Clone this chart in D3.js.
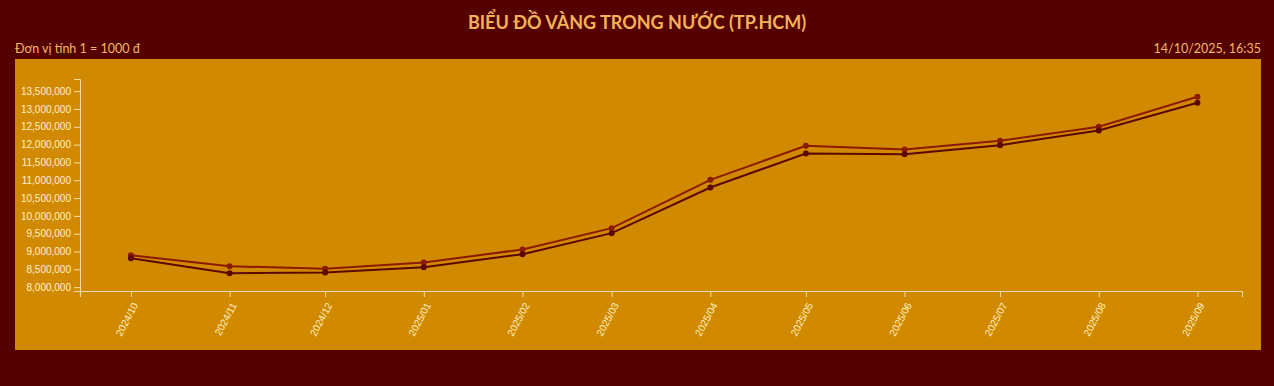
<!doctype html>
<html lang="vi">
<head>
    <meta charset="utf-8">
    <title>Biểu đồ vàng trong nước</title>
    <script src="https://cdnjs.cloudflare.com/ajax/libs/d3/7.8.5/d3.min.js"></script>
    <style>
        body {
            margin: 0;
            background: #550000;
        }

        .axis text {
            fill: #fff1c8;
            font: 10px "Liberation Sans", Arial, sans-serif;
        }

        .axis path,
        .axis line {
            stroke: #f6dca6;
        }
    </style>
</head>
<body>
    <div id="chart"></div>
    <script>

        // data: monthly gold price (TP.HCM), unit 1 = 1000 d
        var months = ["2024/10", "2024/11", "2024/12", "2025/01", "2025/02", "2025/03",
                      "2025/04", "2025/05", "2025/06", "2025/07", "2025/08", "2025/09"];
        var giaBan = [8897000, 8588000, 8514000, 8692000, 9057000, 9656000,
                      11012000, 11966000, 11863000, 12106000, 12499000, 13341000];
        var giaMua = [8813000, 8392000, 8412000, 8561000, 8926000, 9515000,
                      10797000, 11751000, 11732000, 11985000, 12396000, 13173000];

        var title = "BIỂU ĐỒ VÀNG TRONG NƯỚC (TP.HCM)";
        var unitText = "Đơn vị tính 1 = 1000 đ";
        var dateText = "14/10/2025, 16:35";

        var width = 1274;
        var height = 386;

        var box = {x: 15, y: 59, width: 1246, height: 291};
        var plot = {left: 80, right: 1242, top: 79, bottom: 291};

        var parseMonth = d3.timeParse("%Y/%m");
        var dates = months.map(parseMonth);

        var series = [
            {name: "ban", color: "#8a1a00", values: giaBan},
            {name: "mua", color: "#5c0800", values: giaMua}
        ];

        var svg = d3.select("#chart")
            .append("svg")
              .attr("width", width)
              .attr("height", height);

        // Header texts
        svg.append("text")
            .attr("x", width / 2)
            .attr("y", 29)
            .attr("text-anchor", "middle")
            .style("font", "bold 18px Lato, 'Open Sans', sans-serif")
            .style("fill", "#f4b257")
            .text(title);

        svg.append("text")
            .attr("x", 15)
            .attr("y", 53)
            .style("font", "12.5px Lato, 'Open Sans', sans-serif")
            .style("fill", "#f2b865")
            .text(unitText);

        svg.append("text")
            .attr("x", box.x + box.width)
            .attr("y", 53)
            .attr("text-anchor", "end")
            .style("font", "12.5px Lato, 'Open Sans', sans-serif")
            .style("fill", "#f2b865")
            .text(dateText);

        // Orange panel behind the chart
        svg.append("rect")
            .attr("x", box.x)
            .attr("y", box.y)
            .attr("width", box.width)
            .attr("height", box.height)
            .attr("fill", "#d18a00");

        // Scales: time on x with half a month padding, values on y padded by 500k
        var xScale = d3.scaleTime()
            .domain([d3.timeDay.offset(dates[0], -16), d3.timeDay.offset(dates[dates.length - 1], 14)])
            .range([plot.left, plot.right]);

        var allValues = giaBan.concat(giaMua);
        var yScale = d3.scaleLinear()
            .domain([d3.min(allValues) - 500000, d3.max(allValues) + 500000])
            .range([plot.bottom, plot.top]);

        // Axes
        var xAxis = d3.axisBottom(xScale)
            .tickValues(dates)
            .tickFormat(d3.timeFormat("%Y/%m"));

        svg.append("g")
            .attr("class", "x axis")
            .attr("transform", "translate(0," + plot.bottom + ")")
            .call(xAxis)
            .selectAll("text")
              .attr("x", 0)
              .attr("y", 0)
              .attr("dy", 0)
              .attr("text-anchor", "end")
              .attr("transform", "translate(7,14) rotate(-62)");

        var yAxis = d3.axisLeft(yScale)
            .tickFormat(d3.format(","));

        svg.append("g")
            .attr("class", "y axis")
            .attr("transform", "translate(" + plot.left + ",0)")
            .call(yAxis);

        // Lines and dots
        var line = d3.line()
            .x(function(d, i) { return xScale(dates[i]); })
            .y(function(d) { return yScale(d); });

        var groups = svg.selectAll("g.series")
            .data(series)
            .enter()
            .append("g")
            .attr("class", "series");

        groups.append("path")
            .attr("fill", "none")
            .attr("stroke", function(d) { return d.color; })
            .attr("stroke-width", 2)
            .attr("d", function(d) { return line(d.values); });

        groups.selectAll("circle")
            .data(function(d) { return d.values.map(function(v, i) { return {v: v, i: i, color: d.color}; }); })
            .enter()
            .append("circle")
            .attr("cx", function(d) { return xScale(dates[d.i]); })
            .attr("cy", function(d) { return yScale(d.v); })
            .attr("r", 3)
            .attr("fill", function(d) { return d.color; });

    </script>
</body>
</html>
